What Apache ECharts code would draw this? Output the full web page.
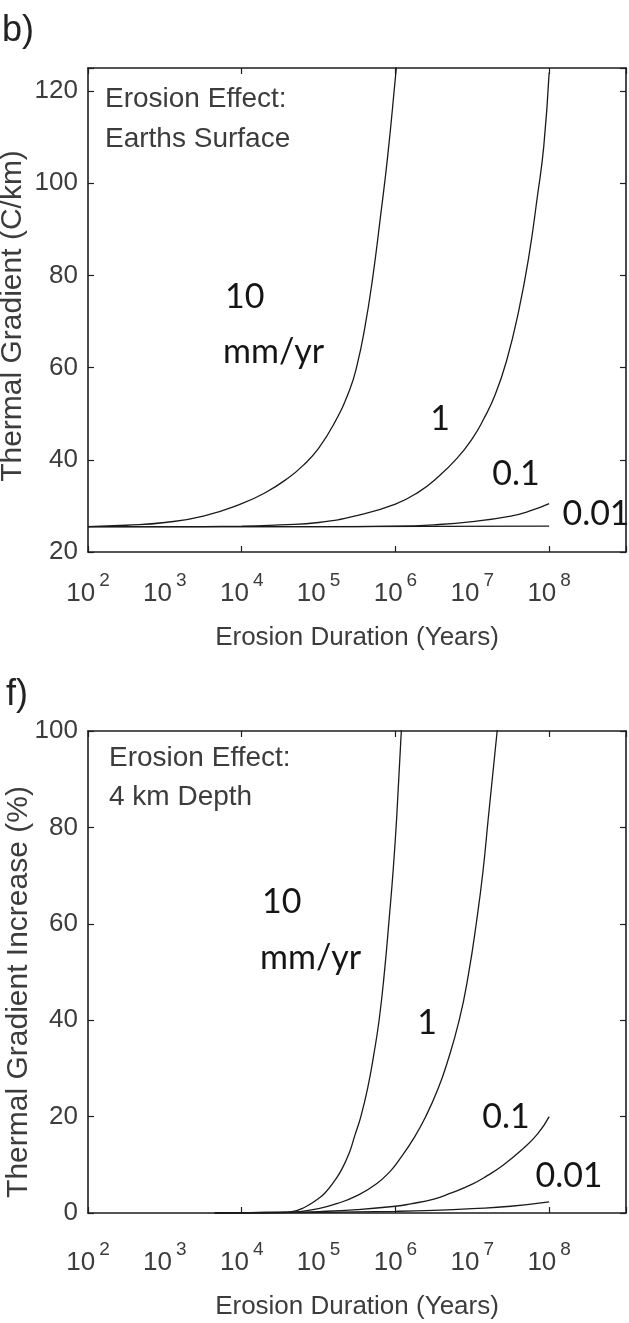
<!DOCTYPE html>
<html><head><meta charset="utf-8">
<script src="https://cdn.jsdelivr.net/npm/echarts@6/dist/echarts.min.js"></script>
<style>html,body{margin:0;padding:0;background:#fff}#c{width:629px;height:1323px}</style>
</head><body><div id="c"></div>
<script>
// ---- data (x values are log10 of erosion duration in years) ----
const xTickExponents = [2, 3, 4, 5, 6, 7, 8];

// Panel b) Earth's surface, thermal gradient (C/km)
const surfLogT_10 = [2, 2.5, 3, 3.5, 4, 4.3, 4.6, 4.8, 5.0, 5.2, 5.4, 5.5, 5.6, 5.7, 5.8, 5.9, 6.0, 6.05];
const surfGrad_10 = [25.5, 25.8, 26.4, 27.8, 30.5, 32.8, 36.0, 38.8, 42.5, 47.8, 55.0, 60.5, 68.5, 79.0, 92.0, 106.0, 123.0, 132.0];
const surfLogT_1 = [2, 3, 4, 4.5, 5, 5.5, 6, 6.3, 6.55, 6.8, 7.0, 7.15, 7.3, 7.45, 7.6, 7.73, 7.85, 7.93, 8.0];
const surfGrad_1 = [25.5, 25.5, 25.6, 25.9, 26.4, 27.9, 30.4, 33.0, 36.2, 40.3, 44.6, 48.9, 54.2, 61.7, 72.0, 83.5, 97.5, 108.0, 124.0];
const surfLogT_01 = [2, 4, 5, 6, 6.5, 7, 7.5, 7.75, 8];
const surfGrad_01 = [25.5, 25.5, 25.5, 25.6, 25.9, 26.6, 27.8, 28.9, 30.5];
const surfLogT_001 = [2, 5, 8];
const surfGrad_001 = [25.5, 25.5, 25.6];

// Panel f) 4 km depth, thermal gradient increase (%)
const deepLogT_10 = [3.65, 4.0, 4.3, 4.5, 4.65, 4.82, 5.0, 5.08, 5.2, 5.3, 5.4, 5.47, 5.55, 5.64, 5.72, 5.79, 5.86, 5.92, 5.97, 6.017, 6.08];
const deepInc_10 = [0, 0.05, 0.1, 0.15, 0.3, 1.2, 3.0, 4.1, 6.5, 9.0, 12.5, 16.0, 20.0, 26.0, 33.0, 40.3, 50.5, 61.3, 71.0, 82.2, 101.0];
const deepLogT_1 = [3.65, 4.5, 4.75, 5.0, 5.25, 5.5, 5.75, 5.94, 6.04, 6.25, 6.4, 6.55, 6.66, 6.83, 6.95, 7.06, 7.14, 7.21, 7.33];
const deepInc_1 = [0, 0.1, 0.3, 0.9, 2.0, 3.6, 6.0, 8.8, 10.8, 15.8, 20.2, 25.6, 30.5, 40.0, 49.5, 61.0, 71.0, 82.2, 101.0];
const deepLogT_01 = [3.65, 4.5, 5.0, 5.5, 6.0, 6.2, 6.5, 6.7, 7.0, 7.2, 7.4, 7.65, 7.85, 8.0];
const deepInc_01 = [0, 0.1, 0.3, 0.7, 1.4, 1.9, 2.9, 4.0, 6.0, 7.8, 9.9, 13.2, 16.4, 20.0];
const deepLogT_001 = [3.65, 5.0, 6.0, 6.5, 7.0, 7.5, 8.0];
const deepInc_001 = [0, 0.15, 0.35, 0.55, 0.9, 1.4, 2.3];

const surfYTicks = [20, 40, 60, 80, 100, 120];
const deepYTicks = [0, 20, 40, 60, 80, 100];

// ---- styling ----
const FONT = '"Liberation Sans", Arial, sans-serif';
const LABEL_FONT = 'Lato, "Liberation Sans", sans-serif';
const AXIS_COLOR = '#1e1e1e';
const TEXT_COLOR = '#3c3c3c';
const CURVE_COLOR = '#1a1a1a';

const pairs = (xs, ys) => xs.map((x, i) => [x, ys[i]]);

function xAxesFor(gridIndex, labelMargin, nameGap) {
  const line = { color: AXIS_COLOR, width: 1.6 };
  return [
    {
      type: 'value', gridIndex, position: 'bottom', min: 2, max: 9, interval: 1,
      axisLine: { show: true, onZero: false, lineStyle: line },
      axisTick: { show: false }, splitLine: { show: false },
      axisLabel: {
        margin: labelMargin,
        formatter: v => xTickExponents.includes(v) ? '{b|10}{e|' + v + '}' : '',
        rich: {
          b: { fontSize: 26, fontFamily: FONT, color: TEXT_COLOR, lineHeight: 46 },
          e: { fontSize: 19, fontFamily: FONT, color: TEXT_COLOR, verticalAlign: 'top', lineHeight: 20, padding: [0, 0, 0, 4] }
        }
      },
      name: 'Erosion Duration (Years)', nameLocation: 'middle', nameGap,
      nameTextStyle: { fontSize: 26, fontFamily: FONT, color: TEXT_COLOR, verticalAlign: 'middle' }
    },
    {
      type: 'value', gridIndex, position: 'bottom', min: 2, max: 9, interval: 2,
      axisLine: { show: false, onZero: false },
      axisTick: { show: true, inside: true, length: 6, lineStyle: { color: AXIS_COLOR, width: 1.2 } },
      axisLabel: { show: false }, splitLine: { show: false }
    },
    {
      type: 'value', gridIndex, position: 'top', min: 2, max: 9, interval: 2,
      axisLine: { show: true, onZero: false, lineStyle: line },
      axisTick: { show: true, inside: true, length: 6, lineStyle: { color: AXIS_COLOR, width: 1.2 } },
      axisLabel: { show: false }, splitLine: { show: false }
    }
  ];
}

function yAxesFor(gridIndex, min, max, ticks) {
  const line = { color: AXIS_COLOR, width: 1.6 };
  return [
    {
      type: 'value', gridIndex, position: 'left', min, max, interval: ticks[1] - ticks[0],
      axisLine: { show: true, onZero: false, lineStyle: line },
      axisTick: { show: true, inside: true, length: 6, lineStyle: { color: AXIS_COLOR, width: 1.2 } },
      splitLine: { show: false },
      axisLabel: {
        margin: 10, fontSize: 26, fontFamily: FONT, color: TEXT_COLOR, padding: [6, 0, 0, 0],
        formatter: v => ticks.includes(v) ? String(v) : ''
      }
    },
    {
      type: 'value', gridIndex, position: 'right', min, max, interval: ticks[1] - ticks[0],
      axisLine: { show: true, onZero: false, lineStyle: line },
      axisTick: { show: true, inside: true, length: 6, lineStyle: { color: AXIS_COLOR, width: 1.2 } },
      splitLine: { show: false }, axisLabel: { show: false }
    }
  ];
}

function curve(name, xIdx, yIdx, xs, ys) {
  return {
    name, type: 'line', xAxisIndex: xIdx, yAxisIndex: yIdx,
    data: pairs(xs, ys), showSymbol: false, smooth: 0.5, clip: true,
    lineStyle: { color: CURVE_COLOR, width: 1.3 }, silent: true
  };
}

function txt(x, y, text, size, opts) {
  return Object.assign({
    type: 'text', x, y, silent: true,
    style: Object.assign({ text, fontSize: size, fontFamily: FONT, fill: TEXT_COLOR, align: 'left', verticalAlign: 'middle' }, (opts && opts.style) || {})
  }, (opts && opts.el) || {});
}

const chart = echarts.init(document.getElementById('c'), null, { renderer: 'canvas' });
chart.setOption({
  animation: false,
  backgroundColor: '#ffffff',
  grid: [
    { left: 88, top: 68, width: 542, height: 484 },
    { left: 88, top: 731, width: 542, height: 482 }
  ],
  xAxis: [...xAxesFor(0, 19, 86), ...xAxesFor(1, 27, 94)],
  yAxis: [...yAxesFor(0, 20, 125, surfYTicks), ...yAxesFor(1, 0, 100, deepYTicks)],
  series: [
    curve('10 mm/yr (surface)', 0, 0, surfLogT_10, surfGrad_10),
    curve('1 mm/yr (surface)', 0, 0, surfLogT_1, surfGrad_1),
    curve('0.1 mm/yr (surface)', 0, 0, surfLogT_01, surfGrad_01),
    curve('0.01 mm/yr (surface)', 0, 0, surfLogT_001, surfGrad_001),
    curve('10 mm/yr (4 km)', 3, 2, deepLogT_10, deepInc_10),
    curve('1 mm/yr (4 km)', 3, 2, deepLogT_1, deepInc_1),
    curve('0.1 mm/yr (4 km)', 3, 2, deepLogT_01, deepInc_01),
    curve('0.01 mm/yr (4 km)', 3, 2, deepLogT_001, deepInc_001)
  ],
  graphic: [
    txt(2, 31, 'b)', 36, { style: { fill: '#222' } }),
    txt(6, 695, 'f)', 36, { style: { fill: '#222' } }),
    txt(13, 316, 'Thermal Gradient (C/km)', 30, { style: { align: 'center' }, el: { rotation: Math.PI / 2 } }),
    txt(19, 992, 'Thermal Gradient Increase (%)', 30, { style: { align: 'center' }, el: { rotation: Math.PI / 2 } }),
    txt(105, 99, 'Erosion Effect:', 28),
    txt(105, 139, 'Earths Surface', 28),
    txt(109, 758, 'Erosion Effect:', 28),
    txt(109, 797, '4 km Depth', 28),
    // curve labels, panel b
    txt(225, 297, '10', 34, { style: { fontFamily: LABEL_FONT, fill: '#151515' } }),
    txt(223, 352, 'mm/yr', 34, { style: { fontFamily: LABEL_FONT, fill: '#151515' } }),
    txt(440, 419, '1', 34, { style: { fontFamily: LABEL_FONT, fill: '#151515', align: 'center' } }),
    txt(516, 474, '0.1', 34, { style: { fontFamily: LABEL_FONT, fill: '#151515', align: 'center' } }),
    txt(596, 514, '0.01', 34, { style: { fontFamily: LABEL_FONT, fill: '#151515', align: 'center' } }),
    // curve labels, panel f
    txt(262, 902, '10', 34, { style: { fontFamily: LABEL_FONT, fill: '#151515' } }),
    txt(260, 958, 'mm/yr', 34, { style: { fontFamily: LABEL_FONT, fill: '#151515' } }),
    txt(427, 1023, '1', 34, { style: { fontFamily: LABEL_FONT, fill: '#151515', align: 'center' } }),
    txt(506, 1117, '0.1', 34, { style: { fontFamily: LABEL_FONT, fill: '#151515', align: 'center' } }),
    txt(569, 1176, '0.01', 34, { style: { fontFamily: LABEL_FONT, fill: '#151515', align: 'center' } })
  ]
});
</script>
</body></html>
